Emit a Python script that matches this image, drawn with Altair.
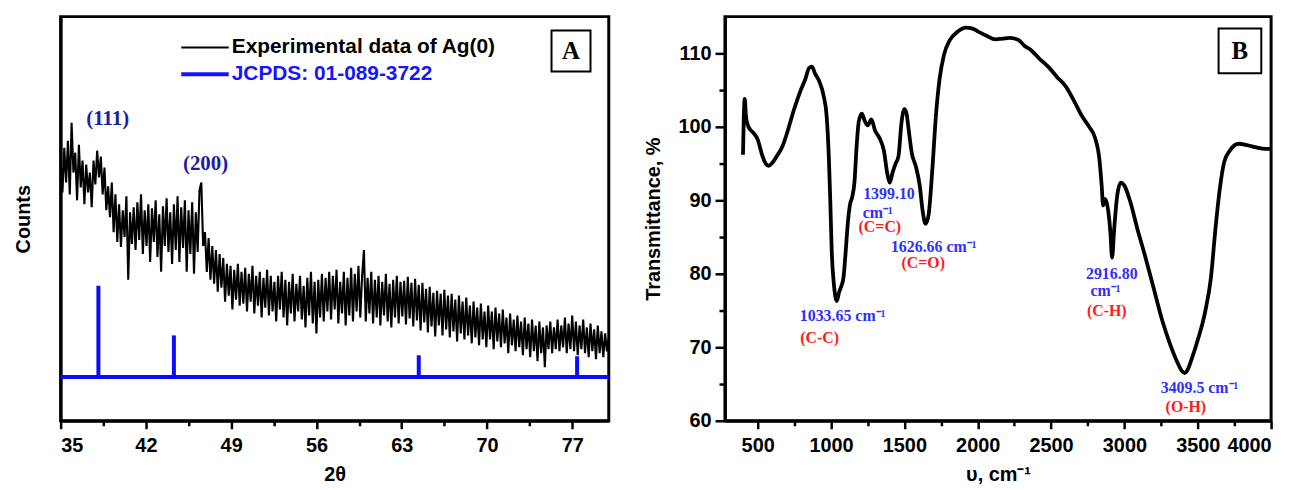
import altair as alt
import pandas as pd

SANS = "Liberation Sans"
SERIF = "Liberation Serif"

# ---------------- Panel A : XRD pattern ----------------
theta_start = 35.0
theta_step = 0.15
counts_35_47 = [262, 230, 275, 240, 282, 228, 300, 250, 270, 222, 278, 235, 262, 218, 258, 230, 250, 215,
                262, 238, 272, 245, 266, 228, 255, 212, 236,
                205, 240, 190, 228, 180, 218, 175, 212, 185, 226, 142, 210, 178, 215, 172, 220, 182, 228,
                168, 212, 176, 218, 160, 214, 180, 222, 165, 208, 150, 216, 176, 224, 170, 210, 158, 218,
                172, 226, 160, 215, 174, 222, 150, 212, 168, 220, 148, 210, 170,
                232, 240, 176]
counts_47_60 = [190, 150, 184, 142, 176, 138, 172, 130, 168, 134, 164, 120, 158, 126, 156, 112, 152, 122,
                158, 116, 150, 118, 154, 110, 148, 120, 156, 108, 146, 116, 150, 104, 144, 114, 152, 106,
                146, 110, 140, 100, 146, 112, 150, 104, 142, 96, 140, 108, 148, 100, 138, 110, 146, 102,
                136, 94, 144, 106, 150, 98, 140, 88, 142, 104, 148, 100, 144, 110, 150, 102, 146, 112,
                152, 98, 140, 108, 150, 96, 144, 106, 154, 100, 148, 110, 156, 104, 146, 172]
counts_60_80 = [100, 144, 108, 150, 98, 142, 104, 146, 96, 140, 106, 148, 100, 138, 94, 142, 104, 146, 98, 140,
                105, 141, 97, 145, 103, 139, 95, 143, 101, 137, 91, 139, 99, 133, 89, 135, 95, 129, 85, 131,
                96, 128, 86, 132, 92, 126, 84, 128, 90, 122, 80, 126, 88, 120, 82, 124, 86, 116, 78, 120,
                84, 114, 76, 118, 82, 110, 74,
                116, 82, 110, 72, 114, 80, 108, 74, 112, 78, 104, 68, 108, 76, 102, 70, 106, 74, 100, 66,
                104, 72, 98, 64, 102, 70, 96, 60, 100, 68, 94, 54, 96,
                72, 100, 68, 94, 72, 102, 70, 96, 74, 104, 68, 98, 72, 106, 70, 100, 66, 96, 72, 102,
                68, 94, 64, 98, 70, 92, 62, 96, 68, 90, 64, 88, 70, 84]
counts_all = counts_35_47 + counts_47_60 + counts_60_80
two_theta = [round(theta_start + theta_step * i, 2) for i in range(len(counts_all))]

jcpds_pos = [38.1, 44.3, 64.4, 77.4]
jcpds_top = [136, 86, 66, 65]
jcpds_base = 44

peak_labels = ["(111)", "(200)"]
peak_label_x = [38.86, 46.9]
peak_label_y = [304, 259]

legend_labels = ["Experimental data of Ag(0)", "JCPDS: 01-089-3722"]
legend_colors = ["black", "#1414ff"]
legend_widths = [2, 4]
legend_x1, legend_x2, legend_tx = 44.9, 48.8, 49.05
legend_y = [376, 349]

# ---------------- Panel B : FTIR spectrum ----------------
wavenumber = [400, 405, 412, 420, 432, 450, 470, 500, 530, 555,
              575, 600, 630, 670, 710, 750, 790, 825, 850, 870,
              890, 920, 950, 970, 985, 995, 1005, 1020, 1040, 1055,
              1070, 1085, 1100, 1115, 1130, 1145, 1160, 1175, 1190, 1210,
              1230, 1250, 1275, 1300, 1330, 1360, 1385, 1400, 1420, 1440,
              1460, 1480, 1500, 1515, 1530, 1550, 1580, 1605, 1625, 1645,
              1665, 1690, 1715, 1740, 1770, 1810, 1860, 1920, 1960, 2000,
              2060, 2120, 2170, 2220, 2280, 2320, 2360, 2420, 2480, 2540,
              2600, 2660, 2710, 2760, 2800, 2830, 2845, 2855, 2870, 2890,
              2905, 2916, 2930, 2950, 2975, 3000, 3040, 3090, 3140, 3200,
              3260, 3310, 3360, 3395, 3410, 3430, 3460, 3500, 3550, 3590,
              3620, 3650, 3680, 3720, 3780, 3840, 3900, 3960, 4000]
transmittance = [96.2, 101.0, 103.8, 101.5, 100.3, 99.6, 99.2, 98.3, 96.2, 95.0,
                 94.7, 95.1, 96.0, 97.4, 99.8, 102.5, 104.8, 106.5, 108.0, 108.2,
                 107.3, 106.2, 104.2, 101.5, 96.0, 90.0, 83.0, 78.5, 76.3, 77.5,
                 78.3, 79.5, 83.0, 87.0, 89.5, 90.5, 92.5, 97.5, 100.8, 101.8,
                 100.8, 100.2, 101.0, 99.5, 98.5, 96.8, 93.5, 92.4, 93.8, 95.0,
                 96.0, 100.5, 102.4, 101.8, 99.5, 96.5, 94.5, 92.0, 88.5, 86.8,
                 88.0, 94.0, 101.5, 106.5, 109.8, 111.8, 112.9, 113.5, 113.4, 113.0,
                 112.4, 111.9, 112.0, 112.1, 111.8, 111.0, 110.5, 109.3, 108.2, 106.8,
                 105.5, 103.4, 101.5, 100.0, 98.5, 95.5, 92.0, 89.3, 90.2, 88.5,
                 85.5, 82.2, 86.0, 90.5, 92.4, 92.0, 89.8, 86.0, 82.5, 78.0,
                 73.5, 70.5, 68.0, 66.7, 66.5, 66.9, 68.5, 71.0, 74.8, 79.5,
                 86.0, 91.5, 95.2, 96.8, 97.7, 97.5, 97.2, 97.0, 97.0]

ann_text = ["1399.10", "cm\u207b\u00b9", "(C=C)", "1626.66 cm\u207b\u00b9", "(C=O)",
            "1033.65 cm\u207b\u00b9", "(C-C)", "2916.80", "cm\u207b\u00b9", "(C-H)",
            "3409.5 cm\u207b\u00b9", "(O-H)"]
ann_x = [1395, 1319, 1333, 1700, 1629, 1079, 923, 2914, 2871, 2880, 3512, 3419]
ann_y = [90.8, 88.3, 86.3, 83.7, 81.4, 74.2, 71.3, 80.0, 77.6, 74.9, 64.5, 61.9]
ann_kind = ["band", "band", "group", "band", "group", "band", "group", "band", "band", "group", "band", "group"]

# ---------------- build tables ----------------
dfA = pd.DataFrame({"theta": two_theta, "counts": counts_all})
dfRef = pd.DataFrame({"pos": jcpds_pos, "top": jcpds_top, "base": [jcpds_base] * len(jcpds_pos)})
dfBase = pd.DataFrame({"x1": [35.0], "x2": [80.0], "y": [jcpds_base]})
dfPeak = pd.DataFrame({"label": peak_labels, "x": peak_label_x, "y": peak_label_y})
dfLeg = pd.DataFrame({"label": legend_labels, "col": legend_colors, "w": legend_widths,
                      "x1": [legend_x1] * 2, "x2": [legend_x2] * 2, "tx": [legend_tx] * 2, "y": legend_y})
dfBoxA = pd.DataFrame({"x1": [75.3], "x2": [78.5], "y1": [351.7], "y2": [393.0], "cx": [76.9], "cy": [372.0], "t": ["A"]})

dfB = pd.DataFrame({"wn": wavenumber, "T": transmittance})
dfAnn = pd.DataFrame({"text": ann_text, "x": ann_x, "y": ann_y,
                      "col": ["#2f2fff" if k == "band" else "#ff1a1a" for k in ann_kind]})
dfBoxB = pd.DataFrame({"x1": [3642], "x2": [3933], "y1": [107.3], "y2": [113.4], "cx": [3787], "cy": [110.35], "t": ["B"]})

# ---------------- Panel A chart ----------------
xA_scale = alt.Scale(domain=[35, 80], nice=False, zero=False)
yA_scale = alt.Scale(domain=[0, 407], nice=False, zero=False)
xA_vals = [35 + 3.5 * i for i in range(13)]

xA_axis = alt.Axis(values=xA_vals, title="2\u03b8",
                   labelExpr="datum.value % 7 == 0 ? datum.label : ''",
                   tickSize={"condition": {"test": "datum.value % 7 == 0", "value": 8}, "value": 5},
                   labelPadding=7, titlePadding=9, grid=False)
yA_axis = alt.Axis(ticks=False, labels=False, title="Counts", titlePadding=27, grid=False)


def xA(f):
    return alt.X(f, type="quantitative", scale=xA_scale, axis=xA_axis)


def yA(f):
    return alt.Y(f, type="quantitative", scale=yA_scale, axis=yA_axis)


lineA = alt.Chart(dfA).mark_line(color="black", strokeWidth=2.1).encode(x=xA("theta"), y=yA("counts"))
baseA = alt.Chart(dfBase).mark_rule(color="#0a0aff", strokeWidth=4).encode(x=xA("x1"), x2="x2:Q", y=yA("y"))
sticksA = alt.Chart(dfRef).mark_rule(color="#0a0aff", strokeWidth=4).encode(x=xA("pos"), y=yA("base"), y2="top:Q")
peaksA = alt.Chart(dfPeak).mark_text(font=SERIF, fontWeight="bold", fontSize=21, color="#1c1ca6").encode(
    x=xA("x"), y=yA("y"), text="label:N")
legLines = alt.Chart(dfLeg).mark_rule().encode(
    x=xA("x1"), x2="x2:Q", y=yA("y"),
    color=alt.Color("col:N", scale=None), strokeWidth=alt.StrokeWidth("w:Q", scale=None))
legText = alt.Chart(dfLeg).mark_text(font=SANS, fontWeight="bold", fontSize=21, align="left", baseline="middle").encode(
    x=xA("tx"), y=yA("y"), text="label:N", color=alt.Color("col:N", scale=None))
boxA = alt.Chart(dfBoxA).mark_rect(fillOpacity=0, stroke="black", strokeWidth=2).encode(
    x=xA("x1"), x2="x2:Q", y=yA("y1"), y2="y2:Q")
boxAtext = alt.Chart(dfBoxA).mark_text(font=SERIF, fontWeight="bold", fontSize=25, color="black", baseline="middle").encode(
    x=xA("cx"), y=yA("cy"), text="t:N")

panelA = alt.layer(lineA, baseA, sticksA, peaksA, legLines, legText, boxA, boxAtext).properties(width=552, height=407)

# ---------------- Panel B chart ----------------
xB_scale = alt.Scale(domain=[277, 4000], nice=False, zero=False)
yB_scale = alt.Scale(domain=[60, 115], nice=False, zero=False)
xB_vals = [500 + 250 * i for i in range(15)]
yB_vals = [60 + 5 * i for i in range(11)]

xB_axis = alt.Axis(values=xB_vals, title="\u03c5, cm\u207b\u00b9",
                   labelExpr="datum.value % 500 == 0 ? datum.label : ''", format="d",
                   tickSize={"condition": {"test": "datum.value % 500 == 0", "value": 8}, "value": 5},
                   labelPadding=7, titlePadding=9, grid=False)
yB_axis = alt.Axis(values=yB_vals, title="Transmittance, %",
                   labelExpr="datum.value % 10 == 0 ? datum.label : ''",
                   tickSize={"condition": {"test": "datum.value % 10 == 0", "value": 10}, "value": 6},
                   labelPadding=4, titlePadding=15, grid=False)


def xB(f):
    return alt.X(f, type="quantitative", scale=xB_scale, axis=xB_axis)


def yB(f):
    return alt.Y(f, type="quantitative", scale=yB_scale, axis=yB_axis)


lineB = alt.Chart(dfB).mark_line(color="black", strokeWidth=3.8, interpolate="monotone").encode(x=xB("wn"), y=yB("T"))
annB = alt.Chart(dfAnn).mark_text(font=SERIF, fontWeight="bold", fontSize=16, baseline="middle").encode(
    x=xB("x"), y=yB("y"), text="text:N", color=alt.Color("col:N", scale=None))
boxB = alt.Chart(dfBoxB).mark_rect(fillOpacity=0, stroke="black", strokeWidth=2).encode(
    x=xB("x1"), x2="x2:Q", y=yB("y1"), y2="y2:Q")
boxBtext = alt.Chart(dfBoxB).mark_text(font=SERIF, fontWeight="bold", fontSize=25, color="black", baseline="middle").encode(
    x=xB("cx"), y=yB("cy"), text="t:N")

panelB = alt.layer(lineB, annB, boxB, boxBtext).properties(width=550, height=407)

chart = alt.hconcat(panelA, panelB, spacing=27).properties(
    padding={"left": 4, "top": 5, "right": 5, "bottom": 0},
    background="white",
).configure_view(
    stroke="black", strokeWidth=3
).configure_axis(
    domainColor="black", domainWidth=3, tickColor="black", tickWidth=2.5,
    labelFont=SANS, labelFontSize=20, labelFontWeight="bold", labelColor="black",
    titleFont=SANS, titleFontSize=20, titleFontWeight="bold", titleColor="black",
)

chart.save("out.html", embed_options={"renderer": "svg", "actions": False})
